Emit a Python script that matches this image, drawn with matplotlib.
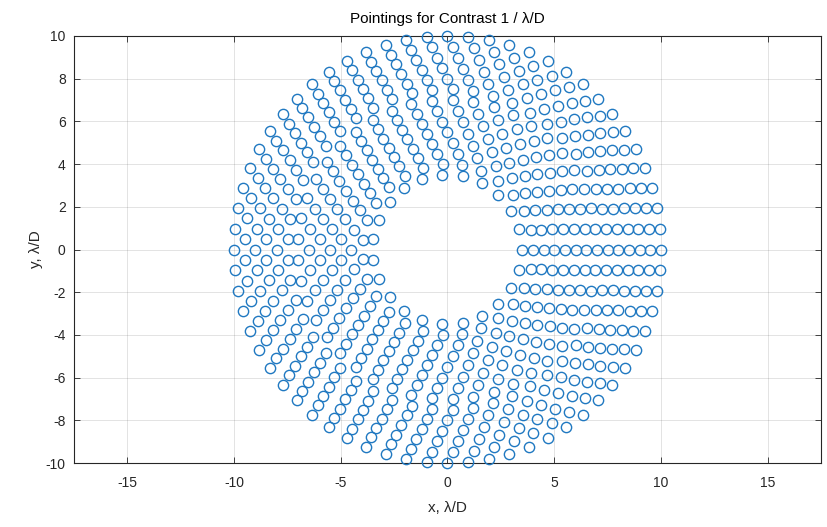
import numpy as np
import matplotlib
matplotlib.use("Agg")
import matplotlib.pyplot as plt

# ring radii (lambda/D) and number of pointings on each ring
ring_radius = [3.5, 4.0, 4.5, 5.0, 5.5, 6.0, 6.5, 7.0, 7.5, 8.0, 8.5, 9.0, 9.5, 10.0]
ring_count = [23, 27, 30, 33, 36, 39, 42, 45, 49, 52, 55, 58, 61, 64]

x_ticks = [-15, -10, -5, 0, 5, 10, 15]
y_ticks = [-10, -8, -6, -4, -2, 0, 2, 4, 6, 8, 10]

plt.rcParams['font.family'] = ['Liberation Sans', 'DejaVu Sans']
plt.rcParams['axes.unicode_minus'] = False
dark = '#262626'

xs, ys = [], []
for r, n in zip(ring_radius, ring_count):
    th = 2 * np.pi * np.arange(n) / n   # evenly spaced around the ring, starting at 0
    xs.append(r * np.cos(th))
    ys.append(r * np.sin(th))
xs = np.concatenate(xs)
ys = np.concatenate(ys)

fig = plt.figure(figsize=(8.27, 5.27), dpi=100)
ax = fig.add_axes([0.0895, 0.1214, 0.9032, 0.8103])

ax.plot(xs, ys, 'o', linestyle='none', markersize=7.4, markerfacecolor='none',
        markeredgecolor='#1f78c1', markeredgewidth=1.0, zorder=3, clip_on=False)

ax.set_xlim(-17.5, 17.5)
ax.set_ylim(-10, 10)
ax.set_xticks(x_ticks)
ax.set_yticks(y_ticks)
ax.grid(True, color='#262626', alpha=0.15, linewidth=0.6)
ax.set_axisbelow(True)

ax.tick_params(direction='in', length=4, width=0.6, colors=dark, labelsize=10,
               top=True, right=True)
ax.tick_params(axis='x', pad=9)
ax.tick_params(axis='y', pad=6)
for s in ax.spines.values():
    s.set_color(dark)
    s.set_linewidth(0.8)

ax.set_title('Pointings for Contrast 1 / λ/D', fontsize=11, color='black', pad=9)
ax.set_xlabel('x, λ/D', fontsize=11, color=dark, labelpad=8)
ax.set_ylabel('y, λ/D', fontsize=11, color=dark, labelpad=2)

fig.savefig('out.png', dpi=100, facecolor='white')
